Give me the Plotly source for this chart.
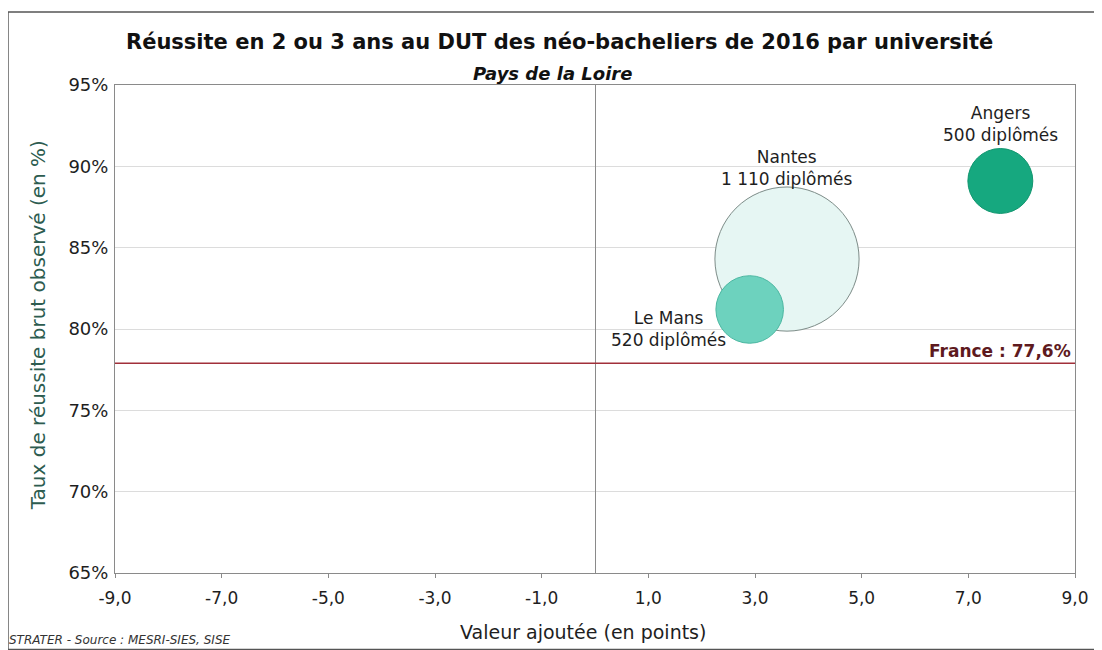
import plotly.graph_objects as go

# ---- data ----
universities = ["Angers", "Nantes", "Le Mans"]
valeur_ajoutee = [7.6, 3.6, 2.9]          # x, points
taux_reussite = [89.1, 84.3, 81.2]        # y, %
diplomes = [500, 1110, 520]
diplomes_txt = ["500", "1 110", "520"]
fill_colors = ["#16a87f", "#e6f6f3", "#6dd2be"]
line_colors = ["#12966f", "#7d8c88", "#4bb7a1"]

france_value = 77.9
france_label = "France : 77,6%"

x_ticks = [-9, -7, -5, -3, -1, 1, 3, 5, 7, 9]
x_ticktext = ["-9,0", "-7,0", "-5,0", "-3,0", "-1,0", "1,0", "3,0", "5,0", "7,0", "9,0"]
y_ticks = [65, 70, 75, 80, 85, 90, 95]
y_ticktext = ["65%", "70%", "75%", "80%", "85%", "90%", "95%"]

FONT = "DejaVu Sans, Liberation Sans, Arial, sans-serif"
TXT = "#1e1e1e"

fig = go.Figure()

# draw biggest first so smaller bubbles are on top
order = sorted(range(len(universities)), key=lambda i: -diplomes[i])
for i in order:
    fig.add_trace(go.Scatter(
        x=[valeur_ajoutee[i]], y=[taux_reussite[i]],
        mode="markers",
        marker=dict(size=[diplomes[i]], sizemode="diameter", sizeref=7.7,
                    color=fill_colors[i],
                    line=dict(color=line_colors[i], width=1),
                    opacity=1),
        name=universities[i], showlegend=False, hoverinfo="skip"))

# bubble labels
label_cfg = {
    "Angers": dict(xanchor="center", yanchor="bottom", xshift=0, yshift=34),
    "Nantes": dict(xanchor="center", yanchor="bottom", xshift=0, yshift=68),
    "Le Mans": dict(xanchor="right", yanchor="middle", xshift=-22, yshift=-20),
}
for i, u in enumerate(universities):
    c = label_cfg[u]
    fig.add_annotation(x=valeur_ajoutee[i], y=taux_reussite[i],
                       text=f"{u}<br>{diplomes_txt[i]} diplômés",
                       showarrow=False, align="center",
                       font=dict(family=FONT, size=17, color=TXT), **c)

# France reference line
fig.add_shape(type="line", xref="paper", x0=0, x1=1, yref="y",
              y0=france_value, y1=france_value,
              line=dict(color="#a1303a", width=1.5))
fig.add_annotation(x=1, xref="paper", y=france_value, yref="y",
                   text=f"<b>{france_label}</b>", showarrow=False,
                   xanchor="right", yanchor="bottom", xshift=-2, yshift=0,
                   font=dict(family=FONT, size=17, color="#5e1a1e"))

# outer border (plot area spans x 115..1075, y 85..573 on screen)
fig.add_shape(type="rect", xref="paper", yref="paper",
              x0=-0.1115, x1=1.024, y0=-0.157, y1=1.1496,
              line=dict(color="#555555", width=1.5), fillcolor="rgba(0,0,0,0)",
              layer="below")

# titles
fig.add_annotation(xref="paper", yref="paper", x=0.4635, y=1.088,
                   text="<b>Réussite en 2 ou 3 ans au DUT des néo-bacheliers de 2016 par université</b>",
                   showarrow=False, xanchor="center", yanchor="middle",
                   font=dict(family=FONT, size=21, color="#111111"))
fig.add_annotation(xref="paper", yref="paper", x=0.456, y=1.023,
                   text="<b><i>Pays de la Loire</i></b>",
                   showarrow=False, xanchor="center", yanchor="middle",
                   font=dict(family=FONT, size=18, color="#111111"))

# axis titles
fig.add_annotation(xref="paper", yref="paper", x=0.4875, y=-0.121,
                   text="Valeur ajoutée (en points)",
                   showarrow=False, xanchor="center", yanchor="middle",
                   font=dict(family=FONT, size=19, color=TXT))
fig.add_annotation(xref="paper", yref="paper", x=-0.08, y=0.508,
                   text="Taux de réussite brut observé (en %)", textangle=-90,
                   showarrow=False, xanchor="center", yanchor="middle",
                   font=dict(family=FONT, size=20, color="#2d5c50"))

# footer
fig.add_annotation(xref="paper", yref="paper", x=-0.112, y=-0.137,
                   text="<i>STRATER - Source : MESRI-SIES, SISE</i>",
                   showarrow=False, xanchor="left", yanchor="middle",
                   font=dict(family=FONT, size=12, color="#333333"))

# the page body adds an 8px offset; margins compensate so the plot area
# lands at x 115..1075, y 85..573 in the window
fig.update_layout(
    width=1102, height=650,
    margin=dict(l=107, r=35, t=77, b=85),
    paper_bgcolor="white", plot_bgcolor="white",
    font=dict(family=FONT, size=17, color=TXT),
    showlegend=False,
    xaxis=dict(range=[-9, 9], tickvals=x_ticks, ticktext=x_ticktext,
               showgrid=False, zeroline=True, zerolinecolor="#8a8a8a",
               zerolinewidth=1, showline=True, linecolor="#8a8a8a",
               linewidth=1, mirror=True, ticks="outside", ticklen=4,
               tickcolor="#8a8a8a", ticklabelstandoff=6,
               tickfont=dict(family=FONT, size=17, color=TXT)),
    yaxis=dict(range=[65, 95], tickvals=y_ticks, ticktext=y_ticktext,
               showgrid=True, gridcolor="#dcdcdc", gridwidth=1,
               zeroline=False, showline=True, linecolor="#8a8a8a",
               linewidth=1, mirror=True, ticks="", ticklabelstandoff=2,
               tickfont=dict(family=FONT, size=18, color=TXT)),
)

fig.write_html("out.html")
